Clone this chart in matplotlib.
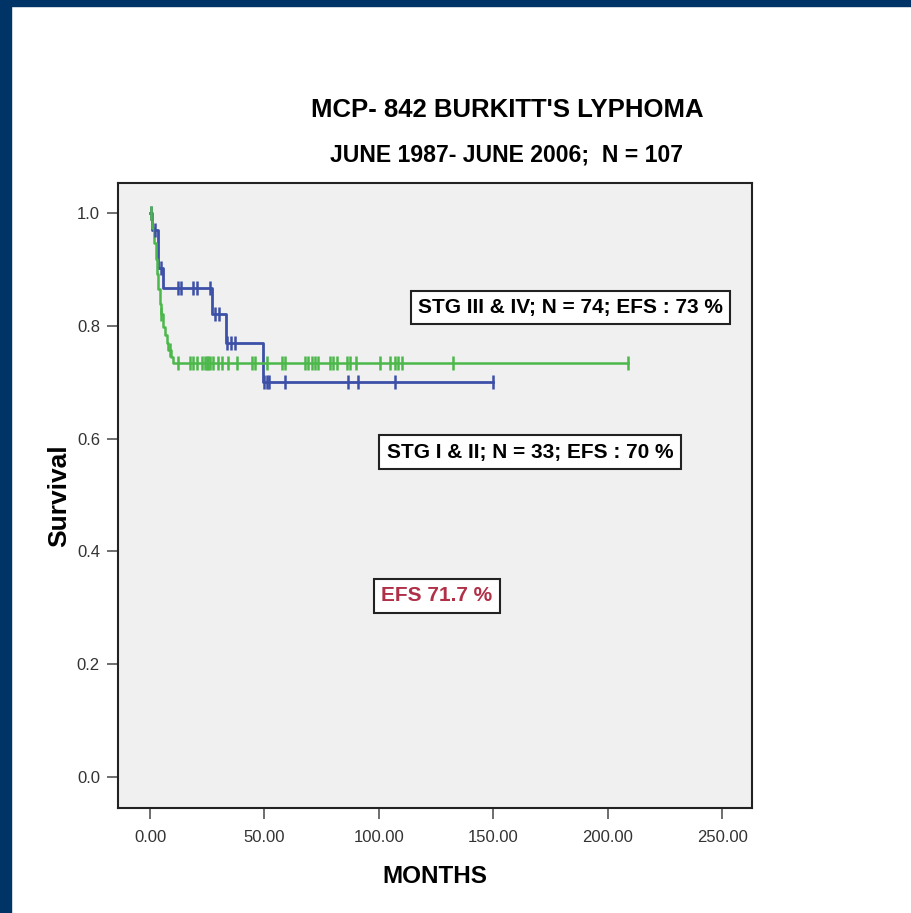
import numpy as np
import matplotlib
matplotlib.use("Agg")
import matplotlib.pyplot as plt
from matplotlib.patches import Rectangle

plt.rcParams['font.family'] = ['Liberation Sans', 'DejaVu Sans']

# stage III & IV (green), N = 74
green_t = [0, 1.0, 1.8, 2.5, 3.0, 3.6, 4.2, 4.8, 5.6, 6.4, 7.2, 8.0, 9.0, 10.2]
green_s = [1.0, 0.973, 0.946, 0.919, 0.892, 0.865, 0.838, 0.820, 0.797, 0.784, 0.770, 0.757, 0.745, 0.734]
green_cens = [0.3, 5.0, 8.6, 12.4, 17.5, 18.9, 20.4, 22.6, 24.0, 24.8, 25.5, 26.2, 27.6,
              29.8, 31.3, 34.2, 37.8, 44.4, 45.9, 51.0, 57.5, 59.0, 67.7, 69.1, 70.6,
              72.0, 73.5, 78.6, 80.0, 81.5, 85.9, 87.3, 90.2, 100.4, 104.8, 107.0,
              108.4, 109.9, 132.4, 208.9]

# stage I & II (blue), N = 33
blue_t = [0, 1.0, 3.6, 5.8, 27.2, 33.3, 49.3]
blue_s = [1.0, 0.970, 0.902, 0.867, 0.820, 0.770, 0.700]
blue_cens = [0.6, 2.0, 4.6, 12.4, 13.4, 18.9, 20.4, 26.2, 28.5, 30.0, 33.8, 35.5, 37.2,
             50.0, 51.0, 52.0, 59.0, 86.6, 91.0, 107.0, 150.0]

x_ticks = [0, 50, 100, 150, 200, 250]
y_ticks = [0.0, 0.2, 0.4, 0.6, 0.8, 1.0]

navy = '#003366'
green = '#4cb84a'
blue = '#3d50a8'


def step_value(t, s, x):
    idx = np.searchsorted(t, x, side='right') - 1
    return np.array(s)[idx]


def draw_km(ax, t, s, cens, color, lw):
    end = max(cens[-1], t[-1])
    xs = list(t) + [end]
    ys = list(s) + [s[-1]]
    ax.step(xs, ys, where='post', color=color, lw=lw, zorder=3)
    cy = step_value(t, s, np.array(cens))
    ax.plot(cens, cy, ls='none', marker='|', ms=10, mew=1.8, color=color, zorder=4)


fig = plt.figure(figsize=(9.11, 9.13), dpi=100)
fig.patch.set_facecolor('white')
fig.patches.append(Rectangle((0, 0), 11 / 911, 1, transform=fig.transFigure,
                             color=navy, zorder=0))
fig.patches.append(Rectangle((0, 1 - 6 / 913), 1, 6 / 913, transform=fig.transFigure,
                             color=navy, zorder=0))

ax = fig.add_axes([118 / 911, 105 / 913, 634 / 911, 625 / 913])
ax.set_facecolor('#f0f0f0')
for sp in ax.spines.values():
    sp.set_linewidth(1.5)
    sp.set_color('#222222')

draw_km(ax, blue_t, blue_s, blue_cens, blue, 2.0)
draw_km(ax, green_t, green_s, green_cens, green, 1.8)

ax.set_xlim(-14, 263)
ax.set_ylim(-0.055, 1.053)
ax.set_xticks(x_ticks)
ax.set_xticklabels(['%.2f' % v for v in x_ticks])
ax.set_yticks(y_ticks)
ax.set_yticklabels(['%.1f' % v for v in y_ticks])
ax.tick_params(length=8, width=1.2, color='#555555', labelcolor='#333333',
               labelsize=12)
ax.tick_params(axis='x', pad=8)
ax.tick_params(axis='y', pad=5)

ax.set_xlabel('MONTHS', fontsize=17.5, fontweight='bold', labelpad=14)
ax.set_ylabel('Survival', fontsize=19, fontweight='bold', labelpad=4)

fig.text(507 / 911, 1 - 110 / 913, "MCP- 842 BURKITT'S LYPHOMA", ha='center', va='center',
         fontsize=18.5, fontweight='bold')
fig.text(507 / 911, 1 - 155 / 913, "JUNE 1987- JUNE 2006;  N = 107", ha='center',
         va='center', fontsize=16.6, fontweight='bold')

box = dict(boxstyle='square,pad=0.35', facecolor='white', edgecolor='#222222', lw=1.5)
ax.text(183.8, 0.832, 'STG III & IV; N = 74; EFS : 73 %', ha='center', va='center',
        fontsize=15, fontweight='bold', bbox=box)
ax.text(166, 0.576, 'STG I & II; N = 33; EFS : 70 %', ha='center', va='center',
        fontsize=15, fontweight='bold', bbox=box)
ax.text(125.3, 0.321, 'EFS 71.7 %', ha='center', va='center', fontsize=15,
        fontweight='bold', color='#b03048', bbox=box)

fig.savefig('out.png', dpi=100)
